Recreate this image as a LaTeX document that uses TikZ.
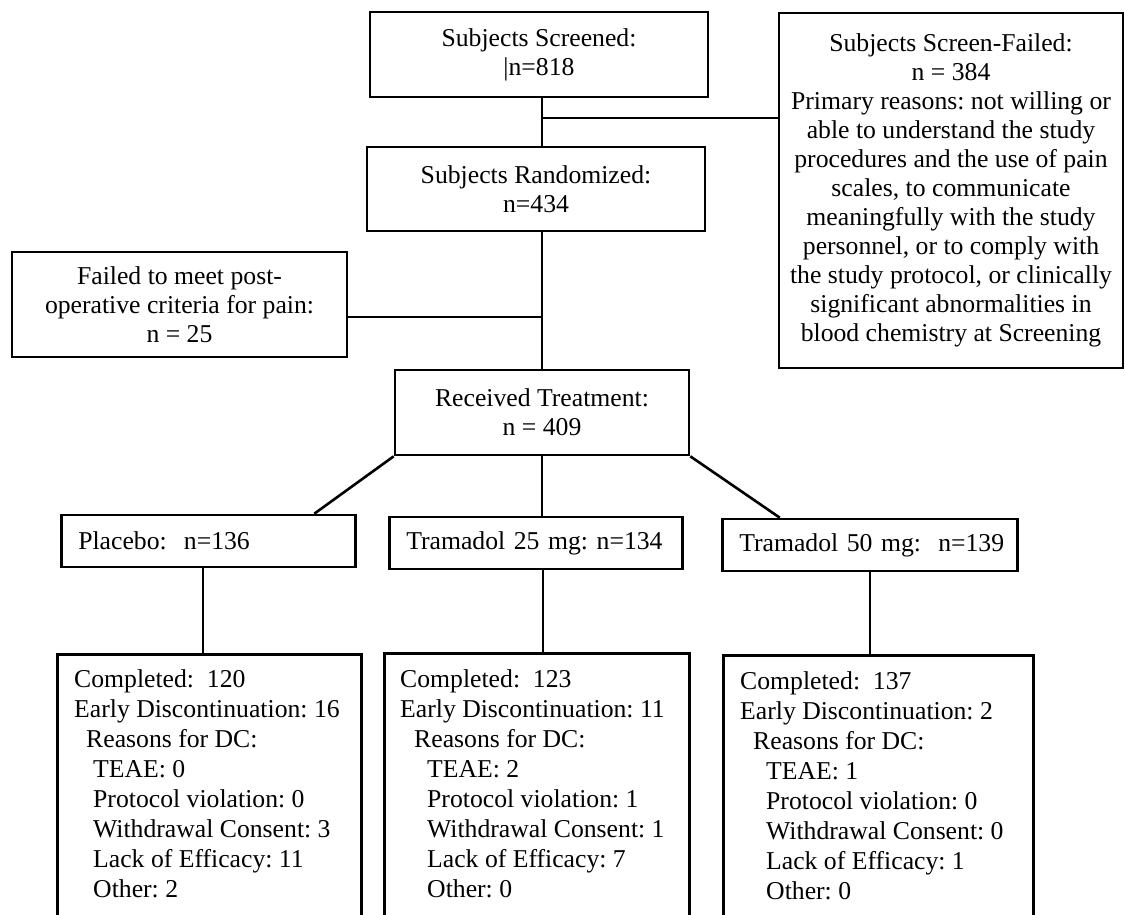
\documentclass[tikz,border=0pt]{standalone}
\usepackage{fontspec}
\setmainfont{Liberation Serif}
\begin{document}
\frenchspacing
\begin{tikzpicture}[x=1pt,y=-1pt,
  box/.style={draw, line width=2.6pt, inner sep=0pt, align=center, font=\fontsize{25.7}{29}\selectfont\frenchspacing},
  arm/.style={draw, line width=2.6pt, inner ysep=0pt, inner xsep=17pt, align=left, anchor=west, minimum height=52pt, font=\fontsize{25.7}{29}\selectfont\frenchspacing},
  outcome/.style={draw, line width=2.6pt, anchor=north west, minimum height=320pt},
  list/.style={inner sep=0pt, anchor=north west, align=left, font=\fontsize{25.7}{30}\selectfont\frenchspacing},
  conn/.style={line width=2.6pt},
  thinconn/.style={line width=1.7pt}]
\clip (0,0) rectangle (1125,914);
% top boxes
\node[box, minimum width=338pt, minimum height=85pt] (scr) at (539,54.5) {Subjects Screened:\\|n=818};
\node[box, minimum width=344pt, minimum height=355pt] (sf) at (951,190.5) {Subjects Screen-Failed:\\n = 384\\Primary reasons: not willing or\\able to understand the study\\procedures and the use of pain\\scales, to communicate\\meaningfully with the study\\personnel, or to comply with\\the study protocol, or clinically\\significant abnormalities in\\blood chemistry at Screening};
\node[box, minimum width=338pt, minimum height=84pt] (rnd) at (536,189) {Subjects Randomized:\\n=434};
\node[box, minimum width=335pt, minimum height=105pt] (fail) at (179.5,304.5) {Failed to meet post-\\operative criteria for pain:\\n = 25};
\node[box, minimum width=294pt, minimum height=85pt] (rec) at (542,412.5) {Received Treatment:\\n = 409};
% arms
\node[arm, text width=260pt] (pla) at (60,541) {\mbox{Placebo:\ \ n=136}};
\node[arm, text width=259pt] (t25) at (388,543) {\mbox{Tramadol 25 mg: n=134}};
\node[arm, text width=261pt] (t50) at (721,545) {\mbox{Tramadol 50 mg:\ \ n=139}};
% outcome boxes
\node[outcome, minimum width=304pt] (b1) at (56,653) {};
\node[outcome, minimum width=305pt] (b2) at (383,652) {};
\node[outcome, minimum width=310pt] (b3) at (722,654) {};
\node[list] (l1) at (74,669) {Completed:\ \ 120\\Early Discontinuation: 16\\\hspace*{12pt}Reasons for DC:\\\hspace*{19pt}TEAE: 0\\\hspace*{19pt}Protocol violation: 0\\\hspace*{19pt}Withdrawal Consent: 3\\\hspace*{19pt}Lack of Efficacy: 11\\\hspace*{19pt}Other: 2};
\node[list] (l2) at (400,669) {Completed:\ \ 123\\Early Discontinuation: 11\\\hspace*{14pt}Reasons for DC:\\\hspace*{27pt}TEAE: 2\\\hspace*{27pt}Protocol violation: 1\\\hspace*{27pt}Withdrawal Consent: 1\\\hspace*{27pt}Lack of Efficacy: 7\\\hspace*{27pt}Other: 0};
\node[list] (l3) at (740,671) {Completed:\ \ 137\\Early Discontinuation: 2\\\hspace*{13pt}Reasons for DC:\\\hspace*{26pt}TEAE: 1\\\hspace*{26pt}Protocol violation: 0\\\hspace*{26pt}Withdrawal Consent: 0\\\hspace*{26pt}Lack of Efficacy: 1\\\hspace*{26pt}Other: 0};
% connectors
\coordinate (j1) at (542,118);
\coordinate (j2) at (542,317);
\draw[conn] (j1 |- scr.south) -- (j1 |- rnd.north);
\draw[conn] (j1) -- (j1 -| sf.west);
\draw[conn] (j2 |- rnd.south) -- (j2 |- rec.north);
\draw[conn] (j2 -| fail.east) -- (j2);
\draw[conn] (rec.south west) -- ([xshift=106pt]pla.north);
\draw[thinconn] (j2 |- rec.south) -- (j2 |- t25.north);
\draw[conn] (rec.south east) -- ([xshift=-90pt]t50.north);
\draw[thinconn] ([xshift=-5pt]pla.south) -- ([xshift=-5pt]pla.south |- b1.north);
\draw[thinconn] ([xshift=7pt]t25.south) -- ([xshift=7pt]t25.south |- b2.north);
\draw[thinconn] (t50.south) -- (t50.south |- b3.north);
\end{tikzpicture}
\end{document}
